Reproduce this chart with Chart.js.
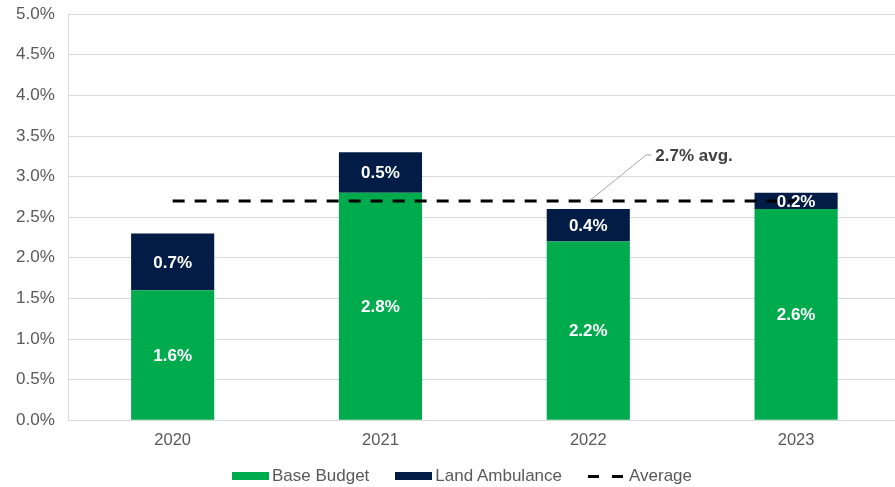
<!DOCTYPE html>
<html>
<head>
<meta charset="utf-8">
<script src="https://cdn.jsdelivr.net/npm/chart.js@4"></script>
<style>
  html, body { margin: 0; padding: 0; background: #fff; overflow: hidden; }
  #wrap { position: absolute; left: 0; top: -10px; width: 900px; height: 497px; }
  #legend {
    position: absolute; left: 12px; top: 465px; width: 900px; height: 22px;
    display: flex; justify-content: center; align-items: center;
    font: 17px 'Liberation Sans', Arial, sans-serif; color: #595959;
  }
  .item { display: flex; align-items: center; margin: 0 13px; }
  .box { width: 37px; height: 8px; margin-right: 3px; }
  .dash { width: 35px; height: 3px; margin-right: 6px;
    background: repeating-linear-gradient(90deg, #000 0 11px, transparent 11px 24px); }
</style>
</head>
<body>
<div id="wrap"><canvas id="budgetChart"></canvas></div>
<div id="legend"></div>
<script>
const years = ["2020", "2021", "2022", "2023"];
const baseBudget = [1.6, 2.8, 2.2, 2.6];
const landAmbulance = [0.7, 0.5, 0.4, 0.2];
const averageValue = 2.7;
const averageLine = [2.7, 2.7, 2.7, 2.7];
const avgLabel = "2.7% avg.";

const FONT = "'Liberation Sans', Arial, sans-serif";
const GREEN = "#00AB4E";
const NAVY = "#021C45";
const AVG_DASH = [12, 10];

const barLabels = {
  id: "barLabels",
  afterDatasetsDraw(chart) {
    const ctx = chart.ctx;
    ctx.save();
    ctx.font = "bold 17px " + FONT;
    ctx.fillStyle = "#ffffff";
    ctx.textAlign = "center";
    ctx.textBaseline = "middle";
    [0, 1].forEach((di) => {
      const meta = chart.getDatasetMeta(di);
      const values = chart.data.datasets[di].data;
      meta.data.forEach((bar, i) => {
        const mid = (bar.y + bar.base) / 2;
        ctx.fillText(values[i].toFixed(1) + "%", bar.x, mid + 1);
      });
    });

    // leader line + average label
    const x0 = chart.scales.x.getPixelForValue(2);
    const y0 = chart.scales.y.getPixelForValue(averageValue);
    ctx.strokeStyle = "#a6a6a6";
    ctx.lineWidth = 1;
    ctx.beginPath();
    ctx.moveTo(x0 + 1, y0);
    ctx.lineTo(x0 + 58, y0 - 46);
    ctx.lineTo(x0 + 63, y0 - 46);
    ctx.stroke();
    ctx.fillStyle = "#404040";
    ctx.textAlign = "left";
    ctx.fillText(avgLabel, x0 + 67, y0 - 45);
    ctx.restore();
  },
};

const chart = new Chart(document.getElementById("budgetChart"), {
  type: "bar",
  data: {
    labels: years,
    datasets: [
      {
        label: "Base Budget",
        data: baseBudget,
        backgroundColor: GREEN,
        borderWidth: 0,
        barPercentage: 0.4,
        categoryPercentage: 1,
        stack: "bars",
        order: 2,
      },
      {
        label: "Land Ambulance",
        data: landAmbulance,
        backgroundColor: NAVY,
        borderWidth: 0,
        barPercentage: 0.4,
        categoryPercentage: 1,
        stack: "bars",
        order: 2,
      },
      {
        type: "line",
        label: "Average",
        data: averageLine,
        borderColor: "#000000",
        borderWidth: 3,
        borderDash: AVG_DASH,
        pointRadius: 0,
        fill: false,
        stack: "avg",
        order: 1,
      },
    ],
  },
  options: {
    responsive: true,
    maintainAspectRatio: false,
    animation: false,
    layout: { padding: { left: 2, right: 0, top: 0, bottom: 35 } },
    plugins: {
      tooltip: { enabled: false },
      legend: { display: false },
    },
    scales: {
      x: {
        stacked: true,
        grid: { display: false },
        border: { display: true, color: "#d9d9d9" },
        ticks: { color: "#595959", font: { family: FONT, size: 16.5 }, padding: 2 },
      },
      y: {
        stacked: true,
        min: 0,
        max: 5,
        grid: { color: "#d9d9d9", drawTicks: false },
        border: { display: true, color: "#d9d9d9" },
        ticks: {
          stepSize: 0.5,
          padding: 14,
          color: "#595959",
          font: { family: FONT, size: 17 },
          callback: (v) => Number(v).toFixed(1) + "%",
        },
      },
    },
  },
  plugins: [barLabels],
});

// html legend built from the chart's datasets
const legend = document.getElementById("legend");
legend.innerHTML = chart.data.datasets
  .map((ds) => {
    const mark =
      ds.type === "line"
        ? '<span class="dash"></span>'
        : `<span class="box" style="background:${ds.backgroundColor}"></span>`;
    return `<span class="item">${mark}<span>${ds.label}</span></span>`;
  })
  .join("");
</script>
</body>
</html>
